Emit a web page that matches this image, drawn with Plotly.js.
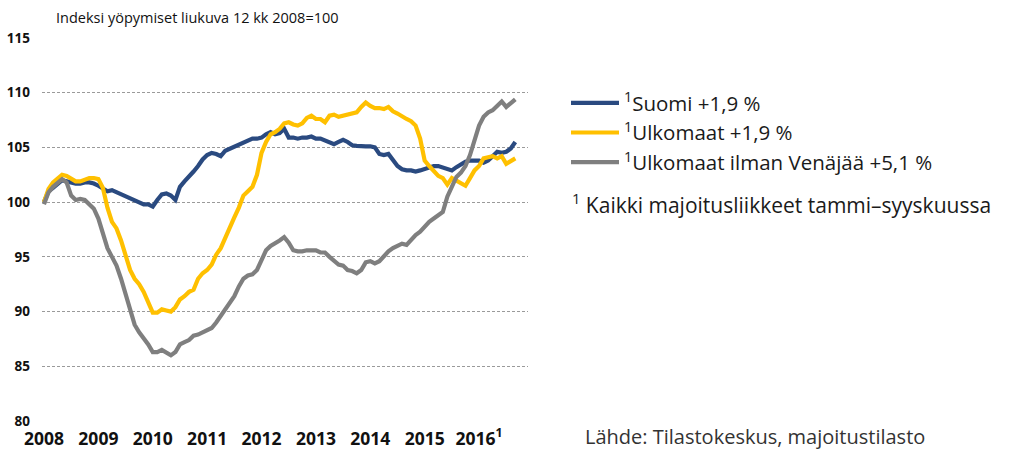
<!DOCTYPE html>
<html>
<head>
<meta charset="utf-8">
<script src="https://cdn.plot.ly/plotly-3.0.1.min.js"></script>
<style>
  html, body { margin: 0; padding: 0; background: #fff; }
  #chart { width: 1010px; height: 452px; }
</style>
</head>
<body>
<div id="chart"></div>
<script>
// Monthly index values, Jan 2008 .. Sep 2016 (moving 12-month, 2008=100)
const yearLabels = ['2008','2009','2010','2011','2012','2013','2014','2015','2016<sup>1</sup>'];
const yTicks = [80, 85, 90, 95, 100, 105, 110, 115];

const seriesNames = [
  '<sup>1</sup>Suomi +1,9 %',
  '<sup>1</sup>Ulkomaat +1,9 %',
  '<sup>1</sup>Ulkomaat ilman Venäjää +5,1 %'
];

const suomi = [
  100.0,101.0,101.3,101.6,102.0,101.9,101.8,101.7,101.7,101.8,101.8,101.7,
  101.5,101.3,101.0,101.1,100.9,100.8,100.6,100.4,100.2,100.0,99.8,99.8,
  99.6,100.2,100.7,100.8,100.6,100.2,101.4,101.9,102.3,102.8,103.3,103.9,
  104.3,104.5,104.4,104.2,104.7,104.9,105.1,105.3,105.5,105.6,105.8,105.8,
  105.9,106.2,106.4,106.2,106.3,106.7,105.9,105.9,105.8,105.9,105.9,106.0,
  105.8,105.8,105.6,105.4,105.3,105.5,105.7,105.5,105.2,105.15,105.1,105.1,
  105.1,105.0,104.4,104.3,104.4,103.8,103.3,103.0,102.9,102.9,102.8,102.9,
  103.0,103.2,103.3,103.3,103.2,103.0,102.9,103.2,103.5,103.7,103.8,103.8,
  103.8,103.6,103.8,104.2,104.6,104.5,104.6,104.9,105.5
];

const ulkomaat = [
  100.0,101.2,101.8,102.2,102.5,102.4,102.1,101.9,101.9,102.1,102.2,102.2,
  102.1,101.3,99.5,98.2,97.6,96.5,95.1,93.8,93.0,92.5,91.8,90.8,
  89.9,89.9,90.2,90.1,90.0,90.4,91.1,91.4,91.8,92.0,93.0,93.5,
  93.8,94.3,95.2,95.8,96.8,97.6,98.6,99.5,100.6,101.0,101.4,102.5,
  104.5,105.5,106.2,106.4,106.7,107.2,107.3,107.1,107.0,107.2,107.7,107.9,
  107.6,107.6,107.3,107.9,108.0,107.8,107.9,108.0,108.1,108.2,108.7,109.1,
  108.8,108.6,108.6,108.5,108.7,108.3,108.1,107.8,107.6,107.4,107.0,105.8,
  103.8,103.3,102.8,102.4,102.2,101.6,102.2,102.0,101.8,101.5,102.2,102.9,
  103.3,104.0,104.1,104.2,104.0,104.2,103.5,103.8,104.0
];

const ilmanVenajaa = [
  99.8,100.9,101.4,101.7,102.1,101.8,100.6,100.2,100.3,100.2,99.8,99.4,
  98.5,97.0,95.8,95.0,94.2,93.0,91.5,90.0,88.8,88.1,87.6,87.0,
  86.3,86.3,86.5,86.2,86.0,86.3,87.0,87.2,87.4,87.8,87.9,88.1,
  88.3,88.5,89.0,89.6,90.3,90.8,91.4,92.3,93.0,93.3,93.4,93.8,
  94.6,95.6,96.0,96.2,96.5,96.8,96.3,95.6,95.5,95.5,95.6,95.6,
  95.6,95.4,95.4,95.0,94.6,94.3,94.2,93.8,93.7,93.5,93.8,94.5,
  94.6,94.4,94.6,95.1,95.5,95.8,96.0,96.2,96.1,96.6,97.0,97.3,
  97.8,98.2,98.5,98.8,99.1,100.5,101.4,102.3,102.7,103.3,104.3,105.8,
  107.0,107.8,108.2,108.4,108.8,109.2,108.7,109.1,109.4
];

const colors = ['#2a4a80', '#ffc000', '#7f7f7f'];

const months = suomi.map((_, i) => i);
const tickVals = yearLabels.map((_, k) => k * 12);

const allSeries = [suomi, ulkomaat, ilmanVenajaa];
const traces = allSeries.map((ys, k) => ({
  type: 'scatter',
  mode: 'lines',
  x: months,
  y: ys,
  name: seriesNames[k],
  legendgroup: 'g' + k,
  line: { color: colors[k], width: 4.2, shape: 'linear' },
  hoverinfo: 'skip'
}));

const FONT = '"Open Sans", "DejaVu Sans", sans-serif';
const L = 42, R = 528, T = 38, B = 421;
const pw = R - L, ph = B - T;
const px = v => (v - L) / pw;
const py = v => (B - v) / ph;

const layout = {
  width: 1010,
  height: 452,
  margin: { l: L, r: 1010 - R, t: T, b: 452 - B, pad: 0 },
  paper_bgcolor: '#ffffff',
  plot_bgcolor: '#ffffff',
  font: { family: FONT, color: '#1a1a1a' },
  showlegend: true,
  legend: {
    x: px(566), xanchor: 'left',
    y: py(83), yanchor: 'top',
    font: { family: FONT, size: 20.5, color: '#1a1a1a' },
    traceorder: 'grouped',
    tracegroupgap: 0,
    itemwidth: 48,
    bgcolor: 'rgba(0,0,0,0)',
    borderwidth: 0
  },
  xaxis: {
    range: [-0.44, 106.8],
    tickmode: 'array',
    tickvals: tickVals,
    ticktext: yearLabels,
    showgrid: false,
    zeroline: false,
    showline: false,
    ticks: '',
    ticklabelstandoff: 5,
    tickfont: { family: FONT, size: 17.5, color: '#111', weight: 'bold' },
    fixedrange: true
  },
  yaxis: {
    range: [80, 115],
    tickmode: 'array',
    tickvals: yTicks,
    ticktext: yTicks.map(String),
    showgrid: true,
    gridcolor: '#9a9a9a',
    gridwidth: 1,
    griddash: '3px,2px',
    zeroline: false,
    showline: false,
    ticks: '',
    ticklabelstandoff: 11,
    tickfont: { family: FONT, size: 13.5, color: '#111', weight: 'bold' },
    fixedrange: true
  },
  annotations: [
    {
      text: 'Indeksi yöpymiset liukuva 12 kk 2008=100',
      xref: 'paper', yref: 'paper',
      x: px(54), y: py(17), xanchor: 'left', yanchor: 'middle',
      showarrow: false,
      font: { family: FONT, size: 14.5, color: '#111' }
    },
    {
      text: '<sup>1</sup> Kaikki majoitusliikkeet tammi–syyskuussa',
      xref: 'paper', yref: 'paper',
      x: px(570), y: py(204), xanchor: 'left', yanchor: 'middle',
      showarrow: false,
      font: { family: FONT, size: 21, color: '#1a1a1a' }
    },
    {
      text: 'Lähde: Tilastokeskus, majoitustilasto',
      xref: 'paper', yref: 'paper',
      x: px(584), y: py(451), xanchor: 'left', yanchor: 'bottom',
      showarrow: false,
      borderpad: 0,
      font: { family: FONT, size: 20, color: '#333' }
    }
  ]
};

Plotly.newPlot('chart', traces, layout, { staticPlot: true, displayModeBar: false });
</script>
</body>
</html>
